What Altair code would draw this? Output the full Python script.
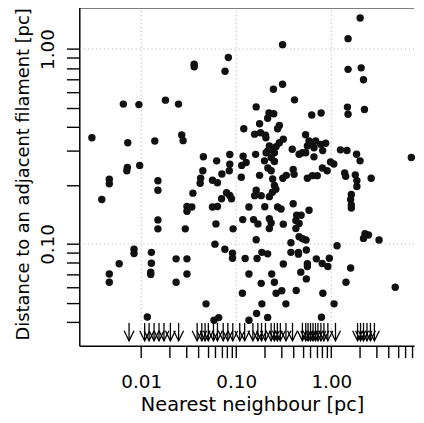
import altair as alt
import pandas as pd

FONT = "DejaVu Sans"

# Nearest-neighbour separation [pc] of each core (x) and distance to the adjacent filament [pc] (y)
nn_pc = [
    2.01, 1.50, 0.307, 0.0361, 0.0361, 0.0826, 0.0762, 1.50, 2.06, 2.18,
    0.246, 0.307, 0.410, 0.00649, 0.00946, 0.0180, 0.0247, 0.162, 0.221, 0.248,
    0.622, 0.781, 1.478, 1.50, 2.23, 0.214, 0.120, 0.176, 0.284, 0.272,
    0.156, 0.180, 0.203, 0.205, 0.3125, 0.284, 0.223, 0.233, 0.2625, 0.214,
    0.206, 0.252, 0.233, 0.160, 0.536, 0.00303, 0.00723, 0.0139, 0.0267, 0.0276,
    0.388, 0.458, 0.583, 0.631, 0.684, 0.772, 0.871, 0.657, 0.560, 0.497,
    0.538, 0.811, 0.657, 1.247, 1.46, 1.844, 2.005, 6.945, 0.0451, 0.0622,
    0.0855, 0.118, 0.114, 0.127, 0.0855, 0.252, 0.198, 0.981, 1.062, 0.805,
    0.904, 0.00715, 0.00706, 0.00965, 0.215, 0.233, 0.00462, 0.00462, 0.00385, 0.0150,
    0.0150, 0.0445, 0.0422, 0.0417, 0.0562, 0.0634, 0.0706, 0.0845, 0.113, 0.176,
    0.2415, 0.252, 0.261, 0.240, 0.309, 0.336, 0.397, 0.406, 0.560, 0.631,
    0.711, 1.382, 1.416, 1.787, 1.857, 1.857, 2.624, 0.0350, 0.162, 0.156,
    0.183, 0.223, 0.0791, 0.0855, 0.0891, 0.0701, 1.623, 1.596, 1.623, 1.623,
    0.397, 0.583, 0.0303, 0.0341, 0.0303, 0.0562, 0.0634, 0.136, 0.1995, 0.272,
    0.296, 0.432, 0.481, 0.424, 0.458, 0.424, 0.0150, 0.0150, 0.0291, 0.0612,
    0.0926, 0.117, 0.152, 0.169, 0.223, 0.233, 0.223, 0.3125, 2.26, 2.458,
    2.18, 0.458, 0.499, 0.542, 0.376, 1.149, 3.177, 0.162, 0.0597, 0.00841,
    0.00841, 0.0128, 0.0128, 0.0126, 0.0126, 0.00587, 0.00462, 0.00462, 0.0233, 0.0303,
    0.0233, 0.0303, 0.0759, 0.0913, 0.0913, 0.124, 0.1655, 0.186, 0.214, 0.136,
    0.116, 0.183, 0.236, 0.252, 0.2625, 0.301, 0.3125, 0.186, 0.1635, 0.136,
    0.214, 0.333, 0.376, 0.451, 0.451, 0.4775, 0.546, 0.560, 0.560, 0.546,
    0.427, 0.695, 0.802, 0.919, 0.953, 0.815, 1.069, 0.787, 1.426, 1.596,
    4.70, 0.0116, 0.0481, 0.0583, 0.0653,
]
dist_pc = [
    1.445, 1.131, 1.054, 0.837, 0.812, 0.905, 0.769, 0.787, 0.801, 0.696,
    0.622, 0.660, 0.549, 0.522, 0.519, 0.547, 0.522, 0.505, 0.470, 0.466,
    0.459, 0.470, 0.504, 0.4635, 0.490, 0.442, 0.390, 0.414, 0.406, 0.390,
    0.366, 0.372, 0.362, 0.351, 0.345, 0.331, 0.3185, 0.305, 0.316, 0.300,
    0.294, 0.294, 0.2777, 0.2884, 0.3635, 0.351, 0.331, 0.3378, 0.3626, 0.339,
    0.306, 0.2887, 0.3378, 0.331, 0.3378, 0.3244, 0.329, 0.312, 0.3185, 0.294,
    0.294, 0.3014, 0.280, 0.304, 0.302, 0.2887, 0.267, 0.2777, 0.2804, 0.267,
    0.2876, 0.2817, 0.253, 0.262, 0.2567, 0.265, 0.267, 0.2634, 0.2573, 0.2456,
    0.2377, 0.247, 0.2377, 0.253, 0.2456, 0.2377, 0.2147, 0.2037, 0.169, 0.211,
    0.1888, 0.2377, 0.2173, 0.2048, 0.2122, 0.206, 0.2284, 0.2377, 0.2198, 0.225,
    0.2154, 0.1994, 0.191, 0.1843, 0.2173, 0.225, 0.2413, 0.2277, 0.2173, 0.2242,
    0.2242, 0.2316, 0.2223, 0.2263, 0.2114, 0.1971, 0.2173, 0.1823, 0.1888, 0.177,
    0.177, 0.1749, 0.1833, 0.1774, 0.1705, 0.1705, 0.1795, 0.169, 0.1584, 0.1529,
    0.1608, 0.1489, 0.1556, 0.1547, 0.1472, 0.1547, 0.1556, 0.1547, 0.1552, 0.1547,
    0.1511, 0.1404, 0.1404, 0.1321, 0.1273, 0.120, 0.1329, 0.1196, 0.1196, 0.1268,
    0.1196, 0.1334, 0.1334, 0.1268, 0.1349, 0.1283, 0.120, 0.1264, 0.1128, 0.1111,
    0.1068, 0.1089, 0.1064, 0.1048, 0.1015, 0.0980, 0.1048, 0.1051, 0.0998, 0.0939,
    0.0893, 0.0906, 0.0797, 0.0717, 0.0698, 0.0791, 0.0701, 0.0636, 0.0839, 0.0839,
    0.0636, 0.0701, 0.0939, 0.0896, 0.0845, 0.0842, 0.0842, 0.0906, 0.089, 0.0701,
    0.0559, 0.0628, 0.0701, 0.0636, 0.0559, 0.0576, 0.0789, 0.0493, 0.044, 0.0406,
    0.042, 0.0493, 0.0906, 0.0906, 0.0887, 0.0717, 0.0932, 0.0791, 0.0767, 0.0662,
    0.0577, 0.0839, 0.0794, 0.0767, 0.0845, 0.0559, 0.0493, 0.0421, 0.0636, 0.0753,
    0.060, 0.0422, 0.0493, 0.0406, 0.0419,
]

# Nearest-neighbour separations of cores with no adjacent filament (drawn as arrows)
arrow_nn_pc = [
    0.00746, 0.01088, 0.01211, 0.01366, 0.01540, 0.01736, 0.02029, 0.02476,
    0.03877, 0.04341, 0.04697, 0.05085, 0.05760, 0.06341, 0.07288, 0.08155,
    0.09195, 0.1088, 0.1226, 0.1496, 0.1687, 0.1844, 0.2029, 0.2327, 0.2518,
    0.2706, 0.2908, 0.3334, 0.3906, 0.4963, 0.5383, 0.5689, 0.6043, 0.6418,
    0.6813, 0.7233, 0.7775, 0.8356, 0.9194, 1.106, 1.888, 2.029, 2.181,
    2.371, 2.579, 2.839,
]

x_ticks = [0.01, 0.02, 0.03, 0.04, 0.05, 0.06, 0.07, 0.08, 0.09,
           0.1, 0.2, 0.3, 0.4, 0.5, 0.6, 0.7, 0.8, 0.9,
           1, 2, 3, 4, 5, 6, 7]
y_ticks = [0.04, 0.05, 0.06, 0.07, 0.08, 0.09,
           0.1, 0.2, 0.3, 0.4, 0.5, 0.6, 0.7, 0.8, 0.9, 1.0]
x_tick_labels = [(0.01, "0.01"), (0.1, "0.10"), (1, "1.00")]
y_tick_labels = [(0.1, "0.10"), (1, "1.00")]
x_grid = [0.01, 0.1, 1]
y_grid = [0.1, 1]
x_domain = [0.002234, 7.41]
y_domain = [0.03007, 1.644]

W, H = 338, 342


def label_expr(pairs):
    return "".join(f"abs(datum.value - {v}) < 0.000001 ? '{s}' : " for v, s in pairs) + "''"


xscale = alt.Scale(type="log", domain=x_domain, nice=False)
yscale = alt.Scale(type="log", domain=y_domain, nice=False)

xaxis = alt.Axis(
    values=x_ticks, labelExpr=label_expr(x_tick_labels), grid=False,
    title="Nearest neighbour [pc]",
    tickSize=12, tickWidth=1.4, tickColor="black",
    domainColor="black", domainWidth=1.5,
    labelFont=FONT, labelFontSize=18.5, labelColor="black",
    labelBaseline="alphabetic", labelAlign="center", labelPadding=30.5,
    labelFlush=False, labelOverlap=False,
    titleFont=FONT, titleFontSize=19.5, titleFontWeight="normal", titleColor="black",
    titleX=174.5, titleY=65, titleBaseline="alphabetic", titleAlign="center",
)
yaxis = alt.Axis(
    values=y_ticks, labelExpr=label_expr(y_tick_labels), grid=False,
    title="Distance to an adjacent filament [pc]",
    tickSize=13, tickWidth=1.4, tickColor="black",
    domainColor="black", domainWidth=1.5,
    labelFont=FONT, labelFontSize=18.5, labelColor="black",
    labelAngle=270, labelBaseline="alphabetic", labelAlign="center", labelPadding=13,
    labelFlush=False, labelOverlap=False,
    titleFont=FONT, titleFontSize=18, titleFontWeight="normal", titleColor="black",
    titleAngle=270, titleX=-51.3, titleY=168.5, titleBaseline="alphabetic", titleAlign="center",
)

df = pd.DataFrame({"nn": nn_pc, "dist": dist_pc})
arrows = pd.DataFrame({"a": arrow_nn_pc})

points = alt.Chart(df).mark_circle(size=56, color="#111111", opacity=1).encode(
    x=alt.X("nn:Q", scale=xscale, axis=xaxis),
    y=alt.Y("dist:Q", scale=yscale, axis=yaxis),
)

xgrid = alt.Chart(pd.DataFrame({"g": x_grid})).mark_rule(
    color="#b8b8b8", strokeDash=[1.2, 2.8], strokeWidth=1
).encode(x=alt.X("g:Q", scale=xscale))

ygrid = alt.Chart(pd.DataFrame({"g": y_grid})).mark_rule(
    color="#b8b8b8", strokeDash=[1.2, 2.8], strokeWidth=1
).encode(y=alt.Y("g:Q", scale=yscale))

shafts = alt.Chart(arrows).mark_rule(color="black", strokeWidth=1.3).encode(
    x=alt.X("a:Q", scale=xscale),
    y=alt.value(319), y2=alt.value(337),
)

heads = alt.Chart(arrows).mark_point(
    shape="M -1 -1 L 0 1 L 1 -1", size=100, filled=False,
    color="black", strokeWidth=1.3, opacity=1,
).encode(
    x=alt.X("a:Q", scale=xscale),
    y=alt.value(332),
)

# top edge of the plot frame (spans the whole plot width)
top_frame = alt.Chart(pd.DataFrame({"k": [0]})).mark_rule(
    color="black", strokeWidth=1.5
).encode(y=alt.value(0.75))

chart = alt.layer(xgrid, ygrid, points, shafts, heads, top_frame).properties(
    width=W, height=H,
    autosize=alt.AutoSizeParams(type="pad"),
    padding={"left": 6, "top": -4, "right": 0, "bottom": 0},
    background="white",
).configure_view(stroke=None)

chart.save("out.html", embed_options={"renderer": "svg", "actions": False})
